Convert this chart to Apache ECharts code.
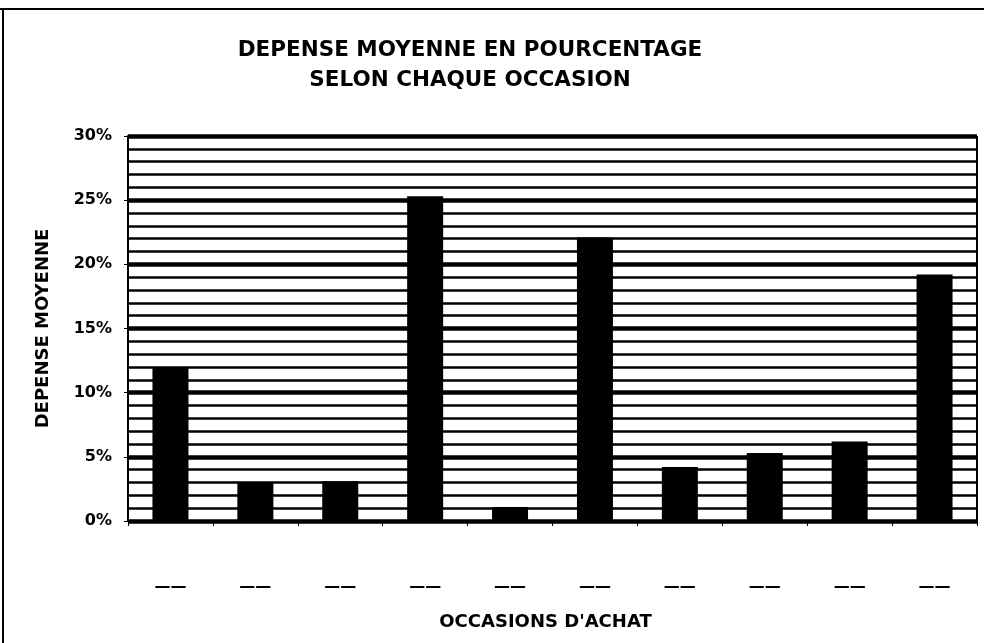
<!DOCTYPE html>
<html>
<head>
<meta charset="utf-8">
<script src="https://cdn.jsdelivr.net/npm/echarts@6/dist/echarts.min.js"></script>
<style>
  html, body { margin: 0; padding: 0; background: #fff; }
  #chart { width: 984px; height: 643px; }
</style>
</head>
<body>
<div id="chart"></div>
<script>
// occasions d'achat (labels are blanked out on the original)
var occasions = ["——", "——", "——", "——", "——", "——", "——", "——", "——", "——"];
// depense moyenne, in %
var depense = [12, 3, 3.1, 25.3, 1.1, 22.1, 4.2, 5.3, 6.2, 19.2];
var yTicks = [0, 5, 10, 15, 20, 25, 30];

var chart = echarts.init(document.getElementById("chart"));
var font = "DejaVu Sans, sans-serif";

var option = {
  animation: false,
  backgroundColor: "#fff",
  title: {
    text: "DEPENSE MOYENNE EN POURCENTAGE\nSELON CHAQUE OCCASION",
    left: 465,
    top: 30,
    textAlign: "center",
    textStyle: {
      fontFamily: font,
      fontWeight: "bold",
      fontSize: 21.5,
      lineHeight: 30,
      color: "#000"
    }
  },
  graphic: [
    { type: "line", shape: { x1: 0, y1: 9, x2: 984, y2: 9 }, style: { stroke: "#000", lineWidth: 2 } },
    { type: "line", shape: { x1: 3, y1: 9, x2: 3, y2: 643 }, style: { stroke: "#000", lineWidth: 2 } },
    { type: "line", shape: { x1: 977, y1: 136, x2: 977, y2: 521 }, style: { stroke: "#000", lineWidth: 2 } }
  ],
  grid: { left: 128, right: 7, top: 136, bottom: 122 },
  xAxis: {
    type: "category",
    data: occasions,
    name: "OCCASIONS D'ACHAT",
    nameLocation: "middle",
    nameGap: 92,
    nameTextStyle: { fontFamily: font, fontWeight: "bold", fontSize: 18, color: "#000", padding: [0, 14, 0, 0] },
    axisLine: { lineStyle: { color: "#000", width: 2 } },
    axisTick: { show: true, alignWithLabel: false, length: 5, lineStyle: { color: "#000", width: 1 } },
    axisLabel: { margin: 58, interval: 0, fontFamily: font, fontWeight: "bold", fontSize: 16, color: "#000" }
  },
  yAxis: {
    type: "value",
    min: 0,
    max: 30,
    interval: 5,
    name: "DEPENSE MOYENNE",
    nameLocation: "middle",
    nameGap: 76,
    nameRotate: 90,
    nameTextStyle: { fontFamily: font, fontWeight: "bold", fontSize: 18, color: "#000" },
    axisLine: { show: true, lineStyle: { color: "#000", width: 2 } },
    axisTick: { show: true, length: 4, lineStyle: { color: "#000" } },
    axisLabel: {
      margin: 16,
      fontFamily: font,
      fontWeight: "bold",
      fontSize: 16,
      color: "#000",
      formatter: function (v) { return yTicks.indexOf(v) >= 0 ? v + "%" : ""; }
    },
    splitLine: { show: true, lineStyle: { color: "#000", width: 4.5 } },
    minorTick: { show: false, splitNumber: 5 },
    minorSplitLine: { show: true, lineStyle: { color: "#000", width: 2.5 } }
  },
  series: [
    {
      type: "bar",
      data: depense,
      barWidth: 36,
      itemStyle: { color: "#000" }
    }
  ]
};

chart.setOption(option);
</script>
</body>
</html>
